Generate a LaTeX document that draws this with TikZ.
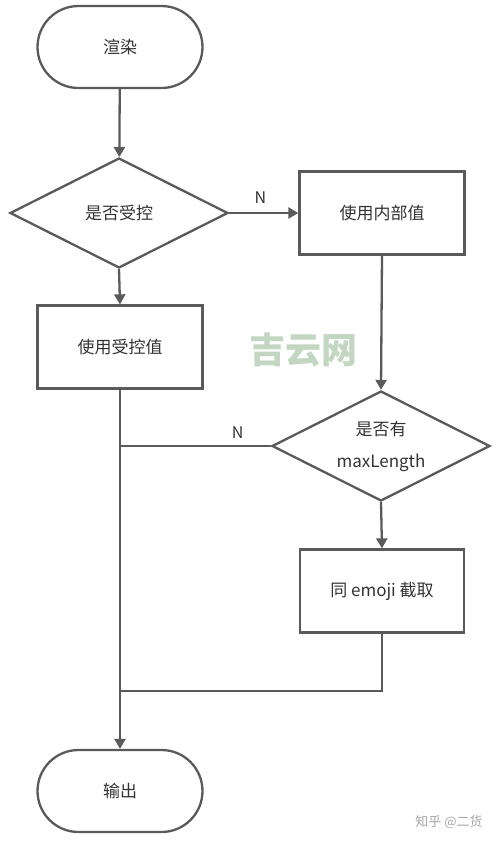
\documentclass[tikz,border=0pt]{standalone}
\usepackage{fontspec}
\setmainfont{Noto Sans CJK SC}
\usetikzlibrary{shapes.geometric,arrows.meta}
\definecolor{ln}{HTML}{5A5A5A}
\definecolor{tx}{HTML}{333333}
\definecolor{wm}{HTML}{C2D6C2}
\begin{document}
\begin{tikzpicture}[x=1pt,y=-1pt,
  every node/.style={text=tx,font=\fontsize{17}{32}\selectfont},
  term/.style={draw=ln,line width=2.3pt,rectangle,rounded corners=41pt,minimum width=165pt,minimum height=82pt,inner sep=0pt},
  proc/.style={draw=ln,line width=2.3pt,rectangle,minimum width=165pt,minimum height=83pt,inner sep=0pt},
  decide/.style={draw=ln,line width=2.3pt,diamond,aspect=2,minimum width=218pt,minimum height=110pt,inner sep=0pt},
  conn/.style={draw=ln,line width=2.3pt},
  arr/.style={conn,-{Triangle[length=10pt,width=11pt]}},
  lbl/.style={font=\fontsize{16}{18}\selectfont}]
\useasboundingbox (0,0) rectangle (500,844);
\node[term] (start) at (120,47) {渲染};
\node[decide] (d1) at (119,213) {是否受控};
\node[proc] (inner) at (382,213) {使用内部值};
\node[proc] (ctrl) at (120,347) {使用受控值};
\node[decide,align=center] (d2) at (381,446) {是否有\\maxLength};
\node[proc,minimum width=164pt] (cut) at (382,591) {同 emoji 截取};
\node[term] (out) at (120,791) {输出};
\coordinate (j1) at (120,446);
\coordinate (j2) at (120,691);
\coordinate (c3) at (382,691);
\draw[arr] (start) -- (d1);
\draw[arr] (d1.east) -- (inner.west) node[lbl,pos=0.45,above=5pt] {N};
\draw[arr] (d1.south) -- (ctrl.north);
\draw[arr] (inner.south) -- (d2.north);
\draw[conn] (d2.west) -- (j1) node[lbl,pos=0.22,above=3pt] {N};
\draw[arr] (d2.south) -- (cut.north);
\draw[conn] (cut.south) -- (c3) -- (j2);
\draw[arr] (ctrl.south) -- (out.north);
\node[text=wm,font=\fontsize{36}{36}\selectfont\bfseries] (wm1) at (303,350) {吉云网};
\node[text=black!35,font=\fontsize{13}{13}\selectfont] (wm2) at (449,822) {知乎 @二货};
\end{tikzpicture}
\end{document}
